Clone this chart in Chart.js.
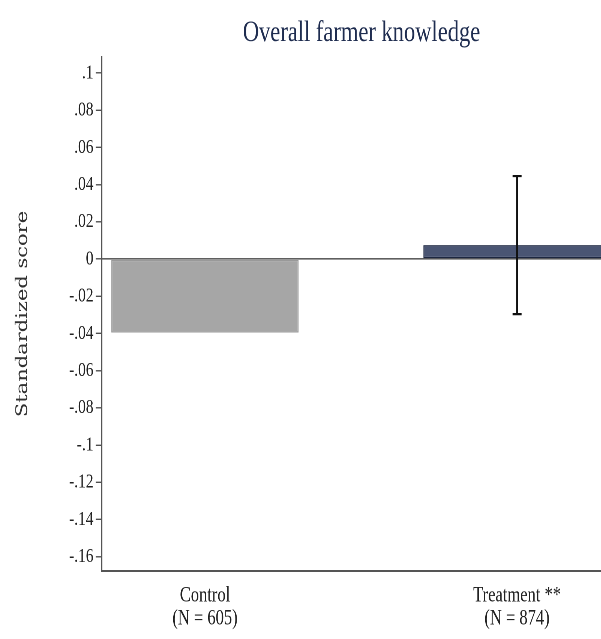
<!DOCTYPE html>
<html>
<head>
<meta charset="utf-8">
<title>Overall farmer knowledge</title>
<script src="https://cdn.jsdelivr.net/npm/chart.js@4/dist/chart.umd.min.js"></script>
<style>
  html, body { margin: 0; padding: 0; background: #fff; overflow: hidden; }
  /* the plot is drawn wide and then narrowed horizontally, giving the condensed look */
  #wrap { width: 964px; height: 639px; transform: scaleX(0.75); transform-origin: 0 0; }
  #chart { display: block; }
</style>
</head>
<body>
<div id="wrap"><canvas id="chart" width="964" height="639"></canvas></div>
<script>
// Groups and their sample sizes
const categories = ['Control', 'Treatment **'];
const sampleSizes = [605, 874];

// Mean standardized knowledge score per group
const meanScores = [-0.0395, 0.0075];

// Confidence interval (drawn for the treatment group only)
const ciLow = [null, -0.0296];
const ciHigh = [null, 0.0446];

// Y axis ticks and their labels
const yTickValues = [0.1, 0.08, 0.06, 0.04, 0.02, 0, -0.02, -0.04, -0.06, -0.08, -0.1, -0.12, -0.14, -0.16];
const yTickLabels = ['.1', '.08', '.06', '.04', '.02', '0', '-.02', '-.04', '-.06', '-.08', '-.1', '-.12', '-.14', '-.16'];

const errorBarPlugin = {
  id: 'errorBars',
  afterDatasetsDraw(chart) {
    const { ctx, scales: { x, y } } = chart;
    ctx.save();
    ctx.strokeStyle = '#111';
    ciLow.forEach((lo, i) => {
      const hi = ciHigh[i];
      if (lo === null || hi === null) return;
      const px = x.getPixelForValue(i + 1);
      const top = y.getPixelForValue(hi);
      const bot = y.getPixelForValue(lo);
      ctx.lineWidth = 2.6;
      ctx.beginPath();
      ctx.moveTo(px, top);
      ctx.lineTo(px, bot);
      ctx.stroke();
      ctx.lineWidth = 2.2;
      ctx.beginPath();
      ctx.moveTo(px - 6, top); ctx.lineTo(px + 6, top);
      ctx.moveTo(px - 6, bot); ctx.lineTo(px + 6, bot);
      ctx.stroke();
    });
    ctx.restore();
  }
};

new Chart(document.getElementById('chart'), {
  type: 'bar',
  data: {
    datasets: [{
      data: meanScores.map((v, i) => ({ x: i + 1, y: v })),
      backgroundColor: ['#a6a6a6', '#4a5573'],
      borderColor: ['#999999', '#1c2640'],
      borderWidth: 1.3,
      borderSkipped: false,
      categoryPercentage: 0.6,
      barPercentage: 1
    }]
  },
  options: {
    responsive: false,
    maintainAspectRatio: false,
    devicePixelRatio: 2,
    animation: false,
    layout: { padding: 0 },
    plugins: {
      legend: { display: false },
      tooltip: { enabled: false },
      title: {
        display: true,
        text: 'Overall farmer knowledge',
        color: '#1f2d50',
        font: { family: 'Liberation Serif', size: 30, weight: 'normal' },
        padding: { top: 15, bottom: 6 }
      }
    },
    scales: {
      x: {
        type: 'linear',
        offset: false,
        min: 0.669,
        max: 2.66,
        afterBuildTicks: s => { s.ticks = categories.map((c, i) => ({ value: i + 1 })); },
        afterFit: s => { s.height = 68; },
        ticks: {
          autoSkip: false,
          maxRotation: 0,
          color: '#222',
          padding: 13,
          font: { family: 'Liberation Serif', size: 22, lineHeight: 1.05 },
          callback: v => [categories[v - 1], '(N = ' + sampleSizes[v - 1] + ')']
        },
        grid: { offset: false, drawOnChartArea: false, drawTicks: false },
        border: { display: true, color: '#555', width: 2 }
      },
      y: {
        type: 'linear',
        min: -0.1677,
        max: 0.1086,
        afterBuildTicks: s => { s.ticks = yTickValues.map(v => ({ value: v })); },
        afterFit: s => { s.width = 135.6; },
        ticks: {
          autoSkip: false,
          color: '#222',
          padding: 3,
          font: { family: 'Liberation Serif', size: 20.5 },
          callback: v => yTickLabels[yTickValues.indexOf(v)]
        },
        grid: {
          drawOnChartArea: true,
          color: c => (c.tick && c.tick.value === 0 ? '#5f5f5f' : 'rgba(0,0,0,0)'),
          lineWidth: 1.6,
          tickLength: 8,
          tickColor: '#444',
          tickWidth: 1.3
        },
        border: { display: true, color: '#555', width: 2 },
        title: {
          display: true,
          text: 'Standardized score',
          color: '#333',
          font: { family: 'DejaVu Serif', size: 21 },
          padding: { top: 17.9, bottom: 0 }
        }
      }
    }
  },
  plugins: [errorBarPlugin]
});
</script>
</body>
</html>
